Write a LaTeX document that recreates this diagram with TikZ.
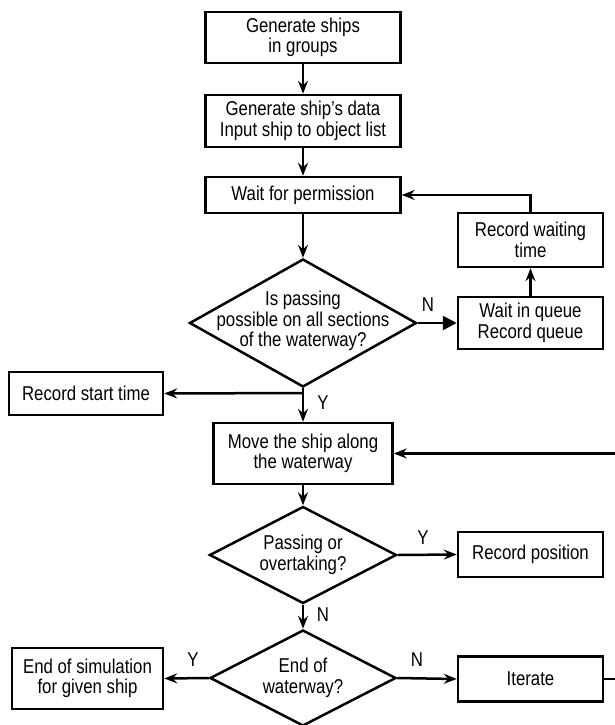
\documentclass[tikz,border=0pt]{standalone}
\usepackage{fontspec}
\setmainfont{Liberation Sans}[FakeStretch=0.84]
\usetikzlibrary{arrows.meta,shapes.geometric}
\begin{document}
\begin{tikzpicture}[x=1pt,y=-1pt,
  fnt/.style={font=\fontsize{20}{20.5}\selectfont},
  box/.style={draw,line width=2.5pt,inner sep=0pt,align=center,fnt},
  dia/.style={draw,diamond,line width=2.5pt,inner sep=0pt},
  txt/.style={align=center,inner sep=0pt,fnt},
  lbl/.style={inner sep=0pt,fnt},
  arr/.style={line width=2.5pt,-{Stealth[length=13pt,width=10pt,inset=4.5pt]}},
  farr/.style={line width=2.5pt,-{Triangle[length=14pt,width=14pt]}},
  ln/.style={line width=2.5pt}]
\useasboundingbox (0,0) rectangle (615,725);

% column boxes
\node[box,minimum width=195pt,minimum height=51pt] (b1) at (303,37.5) {Generate ships\\in groups};
\node[box,minimum width=195pt,minimum height=52pt] (b2) at (303,121) {Generate ship's data\\Input ship to object list};
\node[box,minimum width=195pt,minimum height=36pt] (b3) at (303,195) {Wait for permission};

\node[dia,minimum width=227pt,minimum height=128pt] (d1) at (303,323) {};
\node[txt] (d1t) at (303,321) {Is passing\\possible on all sections\\of the waterway?};

\node[box,minimum width=145pt,minimum height=54pt] (rw) at (530.5,240) {Record waiting\\time};
\node[box,minimum width=145pt,minimum height=52pt] (wq) at (530.5,323) {Wait in queue\\Record queue};

\node[box,minimum width=154pt,minimum height=43pt] (rs) at (86,393.5) {Record start time};
\coordinate (j1) at (303,393);

\node[box,minimum width=179pt,minimum height=61pt] (mv) at (303,453.5) {Move the ship along\\the waterway};

\node[dia,minimum width=187pt,minimum height=97pt] (d2) at (303,555) {};
\node[txt] (d2t) at (303,555) {Passing or\\overtaking?};
\node[box,minimum width=145pt,minimum height=45pt] (rp) at (530.5,554.5) {Record position};

\node[dia,minimum width=186pt,minimum height=96pt] (d3) at (303,678) {};
\node[txt] (d3t) at (303,678) {End of\\waterway?};
\node[box,minimum width=151pt,minimum height=61pt] (es) at (87.5,678.5) {End of simulation\\for given ship};
\node[box,minimum width=145pt,minimum height=45pt] (it) at (530.5,679) {Iterate};
\coordinate (rr) at (640,0);

% connectors
\draw[arr] (b1) -- (b2);
\draw[arr] (b2) -- (b3);
\draw[arr] (b3) -- (d1.north);
\draw[farr] (d1.east) -- (wq.west);
\draw[arr] (wq) -- (rw);
\draw[arr] (rw.north) |- (b3.east);
\draw[ln] (d1.south) -- (j1);
\draw[arr] (j1) -- (mv.north);
\draw[arr] (j1) -- (rs.east);
\draw[arr] (mv) -- (d2.north);
\draw[arr] (d2.east) -- (rp.west);
\draw[arr] (d2.south) -- (d3.north);
\draw[arr] (d3.west) -- (es.east);
\draw[arr] (d3.east) -- (it.west);
\draw[arr] (it.east) -- (it.east -| rr) |- (mv.east);

% labels
\node[lbl] (lN1) at (428,305) {N};
\node[lbl] (lY1) at (323,403) {Y};
\node[lbl] (lY2) at (423,538) {Y};
\node[lbl] (lN2) at (323,615) {N};
\node[lbl] (lY3) at (193,660) {Y};
\node[lbl] (lN3) at (417,660) {N};
\end{tikzpicture}
\end{document}
